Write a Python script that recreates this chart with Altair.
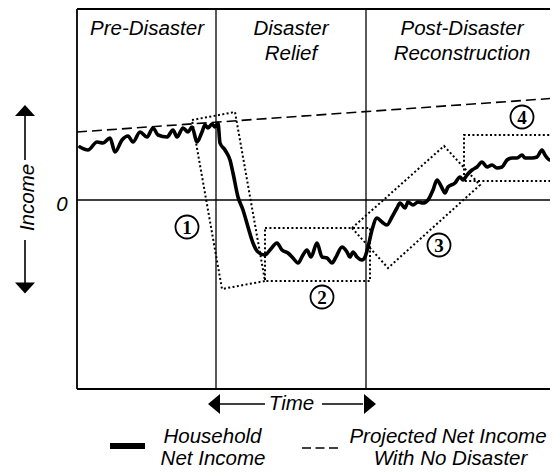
import altair as alt
import pandas as pd

# ---------------- data (time units, income units; income 0 = zero line) ----
household_t = [3, 11, 20, 26, 33, 38, 45, 51, 56, 63, 70, 76, 81, 90, 96, 100, 106, 111,
               115, 120, 125, 128, 131, 135, 138, 141,
               143, 148, 153, 156, 161, 166, 171, 176, 181, 188, 193, 200, 205, 211, 216,
               221, 226, 230, 234, 240, 245, 250, 255, 259, 265, 270, 273, 276, 280, 285,
               288, 291, 295, 300, 305, 310, 315, 320, 323, 328, 331, 336, 341, 346, 351,
               356, 360, 365, 368, 371, 378, 383, 386, 390, 395, 400, 405, 410, 415, 420,
               425, 430, 435, 440, 445, 448, 455, 460, 465, 468, 473, 478, 481]
household_v = [53, 50, 58, 57, 62, 48, 60, 64, 58, 68, 63, 72, 65, 63, 70, 63, 72, 68,
               73, 58, 68, 75, 72, 76, 73, 77,
               57, 50, 40, 27, 3, -10, -27, -43, -52, -55, -50, -43, -50, -53, -58,
               -63, -55, -50, -57, -43, -57, -58, -63, -57, -47, -52, -57, -52, -57, -60,
               -57, -47, -30, -18, -22, -25, -17, -8, -3, -8, -2, -5, -2, -3, 0,
               10, 20, 12, 7, 13, 17, 23, 20, 25, 30, 33, 38, 33, 35, 32,
               33, 40, 42, 42, 45, 42, 42, 43, 50, 45, 40, 43, 44]

projected_t = [0, 481]
projected_v = [68, 102]

x_min, x_view, x_max = 0, 473, 481
y_min, y_max = -189, 191
stage_bounds = [139, 289]

box_id = [1] * 5 + [2] * 5 + [3] * 5 + [4] * 4
box_t = [115, 158, 188, 145, 115,
         188, 293, 293, 188, 188,
         275, 367, 403, 311, 275,
         481, 387, 387, 481]
box_v = [80, 88, -81, -89, 80,
         -28, -28, -81, -81, -28,
         -28, 54, 15, -68, -28,
         65, 65, 19, 19]

marker_labels = ["1", "2", "3", "4"]
marker_t = [110, 245, 362, 445]
marker_v = [-27, -97, -45, 83]

stage_lines = ["Pre-Disaster", "Disaster", "Relief", "Post-Disaster", "Reconstruction"]
stage_t = [70, 214, 214, 385, 385]
stage_v = [165, 165, 140, 165, 140]

legend_lines = ["Household", "Net Income", "Projected Net Income", "With No Disaster"]
legend_t = [135.5, 136, 371, 373.5]
legend_v = [-243, -265, -243, -265]

# ---------------- frames ---------------------------------------------------
df_house = pd.DataFrame({"t": household_t, "v": household_v, "o": range(len(household_t))})
df_proj = pd.DataFrame({"t": projected_t, "v": projected_v})
df_box = pd.DataFrame({"box": box_id, "t": box_t, "v": box_v, "o": range(len(box_t))})
df_mark = pd.DataFrame({"label": marker_labels, "t": marker_t, "v": marker_v})
df_stage = pd.DataFrame({"label": stage_lines, "t": stage_t, "v": stage_v})
df_vrules = pd.DataFrame({"t": [x_min] + stage_bounds, "v": [y_min] * 3, "v2": [y_max] * 3,
                          "w": [1.8, 1.3, 1.3]})
df_hrules = pd.DataFrame({"t": [x_min] * 3, "t2": [x_max] * 3, "v": [y_max, y_min, 0],
                          "w": [1.8, 1.8, 1.3]})
df_legend = pd.DataFrame({"label": legend_lines, "t": legend_t, "v": legend_v})

xs = alt.Scale(domain=[x_min, x_view], nice=False, zero=False)
ys = alt.Scale(domain=[y_min, y_max], nice=False, zero=False)
X = lambda f="t": alt.X(f"{f}:Q", scale=xs, axis=None)
Y = lambda f="v": alt.Y(f"{f}:Q", scale=ys, axis=None)

FONT = "Liberation Sans"
FS = 20.5

vrules = alt.Chart(df_vrules).mark_rule(color="black").encode(
    x=X(), y=Y(), y2="v2:Q", strokeWidth=alt.StrokeWidth("w:Q", scale=None))
hrules = alt.Chart(df_hrules).mark_rule(color="black").encode(
    x=X(), x2="t2:Q", y=Y(), strokeWidth=alt.StrokeWidth("w:Q", scale=None))

proj = alt.Chart(df_proj).mark_line(color="black", strokeWidth=1.6, strokeDash=[10, 5]).encode(
    x=X(), y=Y())

boxes = alt.Chart(df_box).mark_line(color="black", strokeWidth=2, strokeDash=[2, 2.4],
                                    strokeCap="butt").encode(
    x=X(), y=Y(), detail="box:N", order="o:Q")

house = alt.Chart(df_house).mark_line(color="black", strokeWidth=3.6, strokeJoin="round",
                                      strokeCap="round", interpolate="monotone").encode(
    x=X(), y=Y(), order="o:Q")

circles = alt.Chart(df_mark).mark_point(shape="circle", size=530, filled=False, fill="white",
                                        fillOpacity=1, color="black", strokeWidth=1.8,
                                        opacity=1).encode(x=X(), y=Y())
nums = alt.Chart(df_mark).mark_text(font="Liberation Serif", fontWeight="bold", fontSize=19,
                                    color="black", baseline="middle", dy=1).encode(
    x=X(), y=Y(), text="label:N")

stages = alt.Chart(df_stage).mark_text(font=FONT, fontStyle="italic", fontSize=FS,
                                       color="black", baseline="alphabetic").encode(
    x=X(), y=Y(), text="label:N")

# axis annotations (income arrows, zero label, time arrows)
ann_text = pd.DataFrame({"label": ["Income", "0", "Time"], "t": [-49, -15, 214.5],
                         "v": [2.5, -5, -204], "a": [270, 0, 0]})
ann = alt.Chart(ann_text).mark_text(font=FONT, fontStyle="italic", fontSize=FS, color="black",
                                    baseline="middle").encode(
    x=X(), y=Y(), text="label:N", angle=alt.Angle("a:Q", scale=None))

shaft_v = pd.DataFrame({"t": [-52, -52], "v": [84, -40], "v2": [40, -83]})
shafts_v = alt.Chart(shaft_v).mark_rule(color="black", strokeWidth=1.6).encode(
    x=X(), y=Y(), y2="v2:Q")
shaft_h = pd.DataFrame({"t": [143, 245], "t2": [188, 286], "v": [-204, -204]})
shafts_h = alt.Chart(shaft_h).mark_rule(color="black", strokeWidth=1.6).encode(
    x=X(), x2="t2:Q", y=Y())

heads = pd.DataFrame({"t": [-52, -52, 137, 293], "v": [89.5, -88, -204, -204],
                      "s": ["up", "down", "left", "right"]})
head_shapes = {"up": "M0,-0.55L1,0.55L-1,0.55Z", "down": "M0,0.55L1,-0.55L-1,-0.55Z",
               "left": "M-0.6,0L0.6,-1L0.6,1Z", "right": "M0.6,0L-0.6,-1L-0.6,1Z"}
head_layers = [
    alt.Chart(heads[heads.s == k]).mark_point(shape=p, size=400, filled=True, color="black",
                                               opacity=1).encode(x=X(), y=Y())
    for k, p in head_shapes.items()
]

# legend
leg_bar = alt.Chart(pd.DataFrame({"t": [33], "t2": [68], "v": [-246]})).mark_rule(
    color="black", strokeWidth=6, strokeCap="butt").encode(x=X(), x2="t2:Q", y=Y())
leg_dash = alt.Chart(pd.DataFrame({"t": [225], "t2": [261], "v": [-248]})).mark_rule(
    color="black", strokeWidth=1.6, strokeDash=[9, 4.5], strokeCap="butt").encode(
    x=X(), x2="t2:Q", y=Y())
leg_text = alt.Chart(df_legend).mark_text(font=FONT, fontStyle="italic", fontSize=FS,
                                          color="black", baseline="alphabetic").encode(
    x=X(), y=Y(), text="label:N")

chart = alt.layer(
    vrules, hrules, proj, boxes, house, circles, nums, stages, ann, shafts_v, shafts_h,
    *head_layers, leg_bar, leg_dash, leg_text
).properties(
    width=473, height=380,
    autosize=alt.AutoSizeParams(type="none"),
    padding={"left": 69, "top": 1, "right": 0, "bottom": 79},
    background="white",
).configure_view(stroke="transparent")

chart.save("out.html", embed_options={"renderer": "svg", "actions": False})
